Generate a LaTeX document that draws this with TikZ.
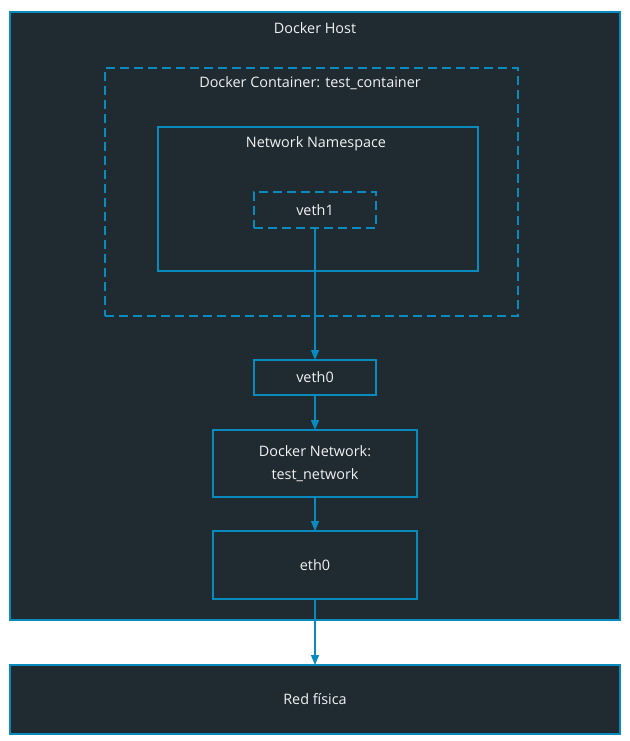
\documentclass[tikz,border=0pt]{standalone}
\usepackage{fontspec}
\setmainfont{Open Sans}
\usepackage{xcolor}
\usepackage{tikz}
\usetikzlibrary{arrows.meta,calc}
\definecolor{hostbg}{HTML}{1F2B31}
\definecolor{netblue}{HTML}{0A8BBD}
\definecolor{labeltext}{HTML}{F2F2F2}

\begin{document}
\begin{tikzpicture}[x=0.75pt, y=-0.75pt]
    \tikzset{
        box/.style={draw=netblue, fill=hostbg, line width=1.1pt, inner sep=0pt, outer sep=0pt},
        dashbox/.style={box, line width=2.2pt, dash pattern=on 6.5pt off 4pt},
        boxlabel/.style={text=labeltext, font=\fontsize{10.8}{17}\selectfont, align=center},
        link/.style={draw=netblue, line width=0.9pt, -{Triangle[length=7.5pt,width=6pt]}}
    }
    \useasboundingbox[fill=white] (0,0) rectangle (630,741);
    % Nodes
    \node (host) [box, minimum width=457.5pt, minimum height=456pt] at (315,316) {};
    \node (hostLabel) [boxlabel] at (315,28.5) {Docker Host};

    \node (container) [dashbox, minimum width=309.75pt, minimum height=186pt] at (311.5,192) {};
    \node (containerLabel) [boxlabel] at (310,83.5) {Docker Container: test\_container};

    \node (namespace) [box, minimum width=240pt, minimum height=108pt] at (318,199) {};
    \node (namespaceLabel) [boxlabel] at (316,143.5) {Network Namespace};

    \node (veth1) [dashbox, boxlabel, minimum width=91.5pt, minimum height=27pt] at (315,210) {veth1};
    \node (veth0) [box, boxlabel, minimum width=91.5pt, minimum height=26.25pt] at (315,377.5) {veth0};
    \node (dockerNet) [box, boxlabel, minimum width=153pt, minimum height=50.25pt] at (315,463.5) {Docker Network:\\test\_network};
    \node (eth0) [box, boxlabel, minimum width=153pt, minimum height=51pt] at (315,565) {eth0};

    \node (redFisica) [box, boxlabel, minimum width=457.5pt, minimum height=51.75pt] at (315,699.5) {Red física};

    % Arrows
    \draw [link] (veth1) -- (veth0);
    \draw [link] (veth0) -- (dockerNet);
    \draw [link] (dockerNet) -- (eth0);
    \draw [link] (eth0) -- (redFisica);
\end{tikzpicture}
\end{document}
